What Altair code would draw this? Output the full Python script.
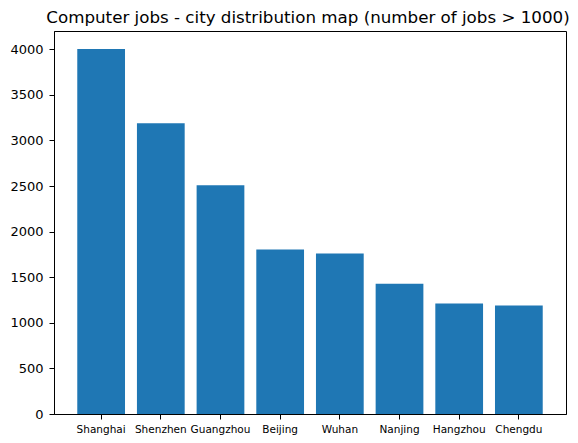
import altair as alt
import pandas as pd

cities = ["Shanghai", "Shenzhen", "Guangzhou", "Beijing", "Wuhan", "Nanjing", "Hangzhou", "Chengdu"]
jobs = [4003, 3189, 2508, 1805, 1759, 1427, 1211, 1189]
y_ticks = [0, 500, 1000, 1500, 2000, 2500, 3000, 3500, 4000]
title_text = ["Computer jobs - city distribution map (number of jobs > 1000)"]

df = pd.DataFrame({"city": cities, "jobs": jobs})
title_df = pd.DataFrame({"t": title_text})

FONT = "DejaVu Sans"
W, H = 512, 383

bars = (
    alt.Chart(df)
    .mark_bar(color="#1f77b4")
    .encode(
        x=alt.X(
            "city:N",
            sort=None,
            scale=alt.Scale(paddingInner=0.2, paddingOuter=0.39),
            axis=alt.Axis(
                title=None,
                labelAngle=0,
                labelFontSize=10.5,
                labelFont=FONT,
                labelColor="black",
                labelPadding=5,
                tickSize=5,
                tickColor="black",
                tickWidth=1,
                domainColor="black",
                domainWidth=1,
                grid=False,
            ),
        ),
        y=alt.Y(
            "jobs:Q",
            scale=alt.Scale(domain=[0, 4200], nice=False, zero=True),
            axis=alt.Axis(
                title=None,
                values=y_ticks,
                format="d",
                labelFontSize=13,
                labelFont=FONT,
                labelColor="black",
                labelPadding=6,
                tickSize=5,
                tickColor="black",
                tickWidth=1,
                domainColor="black",
                domainWidth=1,
                grid=False,
            ),
        ),
    )
)

title = (
    alt.Chart(title_df)
    .mark_text(font=FONT, fontSize=16.7, color="black", align="center", baseline="alphabetic")
    .encode(text="t:N", x=alt.value(W / 2 - 2), y=alt.value(-8))
)

chart = (
    alt.layer(bars, title)
    .properties(
        width=W,
        height=H,
        autosize="none",
        padding={"left": 46, "top": 23, "right": 4, "bottom": 21},
    )
    .configure_view(stroke="black", strokeWidth=1)
)

chart.save("out.html", embed_options={"renderer": "svg", "actions": False})
